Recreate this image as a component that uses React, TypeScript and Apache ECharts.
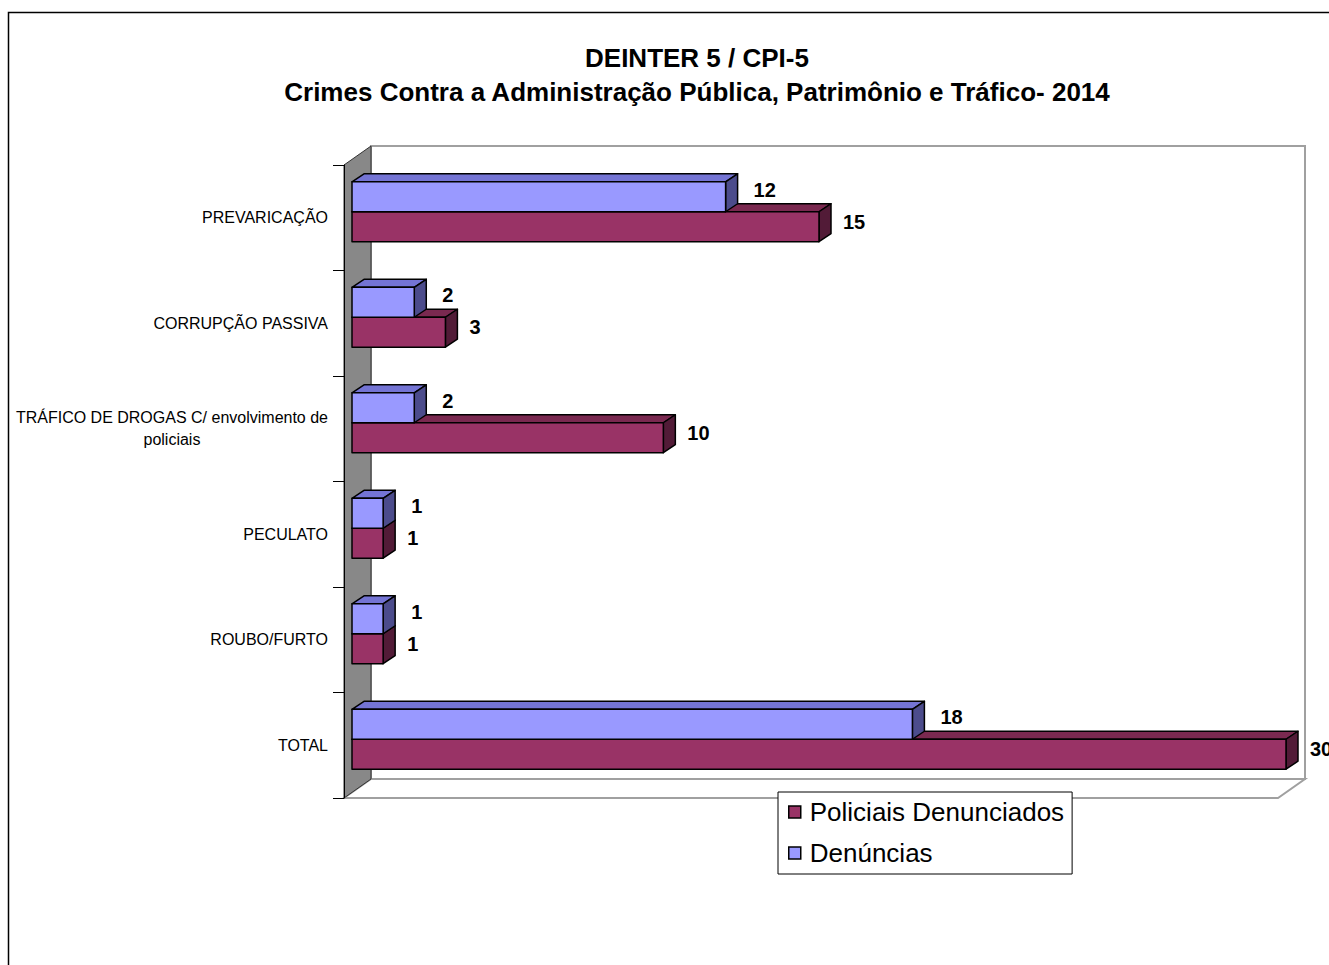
import React, { useEffect, useRef } from 'react';
import * as echarts from 'echarts';

// ---------- data ----------
const categories = [
  'PREVARICAÇÃO',
  'CORRUPÇÃO PASSIVA',
  'TRÁFICO DE DROGAS C/ envolvimento de policiais',
  'PECULATO',
  'ROUBO/FURTO',
  'TOTAL',
];
const policiaisDenunciados = [15, 3, 10, 1, 1, 30];
const denuncias = [12, 2, 2, 1, 1, 18];
const seriesNames = ['Policiais Denunciados', 'Denúncias'];
const titleLines = [
  'DEINTER 5 / CPI-5',
  'Crimes Contra a Administração Pública, Patrimônio e Tráfico- 2014',
];
const valueMin = 0;
const valueMax = 30;

// ---------- layout / style ----------
const FONT = '"Liberation Sans", Arial, sans-serif';
const GL = 344, GT = 165, GW = 934, GH = 633; // front plane of the 3D box
const WX = 27, WY = -19; // wall depth
const BX = 8, BY = -6; // bar front plane offset
const DX = 12, DY = -8; // bar depth
const BAR_FRAC = 0.284;

const redFaces = { front: '#993366', top: '#7a2950', side: '#521b37' };
const blueFaces = { front: '#9999FF', top: '#7474d4', side: '#4c4c8c' };

function make3dBar(stackPos: number, faces: any) {
  return (params: any, api: any) => {
    const v = api.value(0);
    const c = api.value(1);
    const p0 = api.coord([0, c]);
    const p1 = api.coord([v, c]);
    const band = api.size([0, 1])[1];
    const h = band * BAR_FRAC;
    const x0 = p0[0] + BX;
    const x1 = p1[0] + BX;
    const yt = p0[1] + BY - (stackPos === 1 ? h : 0);
    const yb = yt + h;
    const st = { stroke: '#000', lineWidth: 1.5, lineJoin: 'round' };
    const lx = stackPos === 1 ? x1 + 28 : x1 + 24;
    const ly = stackPos === 1 ? p0[1] - 28 : p0[1] + 4;
    return {
      type: 'group',
      children: [
        {
          type: 'polygon',
          shape: { points: [[x0, yt], [x0 + DX, yt + DY], [x1 + DX, yt + DY], [x1, yt]] },
          style: { fill: faces.top, ...st },
        },
        {
          type: 'polygon',
          shape: { points: [[x1, yt], [x1 + DX, yt + DY], [x1 + DX, yb + DY], [x1, yb]] },
          style: { fill: faces.side, ...st },
        },
        {
          type: 'rect',
          shape: { x: x0, y: yt, width: x1 - x0, height: h },
          style: { fill: faces.front, ...st },
        },
        {
          type: 'text',
          x: lx,
          y: ly,
          style: {
            text: String(v),
            fill: '#000',
            font: `bold 20px ${FONT}`,
            align: 'left',
            verticalAlign: 'middle',
          },
        },
      ],
    };
  };
}

export default function App() {
  const ref = useRef<HTMLDivElement>(null);
  useEffect(() => {
    document.body.style.margin = '0';
    const chart = echarts.init(ref.current!, null, { renderer: 'svg' });
    const wallStroke = '#a0a0a0';
    chart.setOption({
      animation: false,
      backgroundColor: '#fff',
      title: {
        text: titleLines.join('\n'),
        left: 697,
        top: 41,
        padding: 0,
        textAlign: 'center',
        textStyle: {
          fontFamily: FONT,
          fontSize: 26,
          fontWeight: 'bold',
          color: '#000',
          lineHeight: 34,
        },
      },
      legend: {
        data: seriesNames,
        orient: 'vertical',
        left: 778,
        top: 792,
        icon: 'rect',
        itemWidth: 12,
        itemHeight: 12,
        itemGap: 15,
        padding: [7, 8, 8, 10],
        backgroundColor: '#fff',
        borderColor: '#000',
        borderWidth: 1,
        itemStyle: { borderColor: '#000', borderWidth: 1.5 },
        textStyle: { fontFamily: FONT, fontSize: 26, color: '#000', padding: [0, 0, 0, 4] },
      },
      grid: { left: GL, top: GT, width: GW, height: GH, containLabel: false },
      xAxis: {
        type: 'value',
        min: valueMin,
        max: valueMax,
        show: false,
      },
      yAxis: {
        type: 'category',
        data: categories,
        inverse: true,
        axisLine: { show: true, lineStyle: { color: '#000', width: 1 } },
        axisTick: { show: true, length: 11, lineStyle: { color: '#000', width: 1 } },
        splitLine: { show: false },
        axisLabel: {
          margin: 16,
          color: '#000',
          fontFamily: FONT,
          fontSize: 16,
          lineHeight: 22,
          formatter: (v: string) => `{c|${v.replace(' policiais', '\npoliciais')}}`,
          rich: { c: { align: 'center', fontFamily: FONT, fontSize: 16, lineHeight: 22, color: '#000' } },
        },
      },
      graphic: [
        // outer frame
        {
          type: 'rect',
          z: 0,
          silent: true,
          shape: { x: 8.5, y: 12.5, width: 1400, height: 1000 },
          style: { fill: 'none', stroke: '#000', lineWidth: 1.5 },
        },
        // back wall
        {
          type: 'rect',
          z: 0,
          silent: true,
          shape: { x: GL + WX, y: GT + WY, width: GW, height: GH },
          style: { fill: '#fff', stroke: wallStroke, lineWidth: 2 },
        },
        // floor
        {
          type: 'polygon',
          z: 0,
          silent: true,
          shape: {
            points: [
              [GL, GT + GH],
              [GL + WX, GT + GH + WY],
              [GL + WX + GW, GT + GH + WY],
              [GL + GW, GT + GH],
            ],
          },
          style: { fill: '#fff', stroke: wallStroke, lineWidth: 2 },
        },
        // side wall
        {
          type: 'polygon',
          z: 0,
          silent: true,
          shape: {
            points: [
              [GL, GT],
              [GL + WX, GT + WY],
              [GL + WX, GT + GH + WY],
              [GL, GT + GH],
            ],
          },
          style: { fill: '#888888', stroke: '#333', lineWidth: 1 },
        },
      ],
      series: [
        {
          name: seriesNames[0],
          type: 'custom',
          renderItem: make3dBar(0, redFaces),
          itemStyle: { color: redFaces.front },
          encode: { x: 0, y: 1 },
          data: policiaisDenunciados.map((v, i) => [v, i]),
          z: 3,
        },
        {
          name: seriesNames[1],
          type: 'custom',
          renderItem: make3dBar(1, blueFaces),
          itemStyle: { color: blueFaces.front },
          encode: { x: 0, y: 1 },
          data: denuncias.map((v, i) => [v, i]),
          z: 4,
        },
      ],
    });
    return () => chart.dispose();
  }, []);
  return <div ref={ref} style={{ width: 1329, height: 965 }} />;
}
